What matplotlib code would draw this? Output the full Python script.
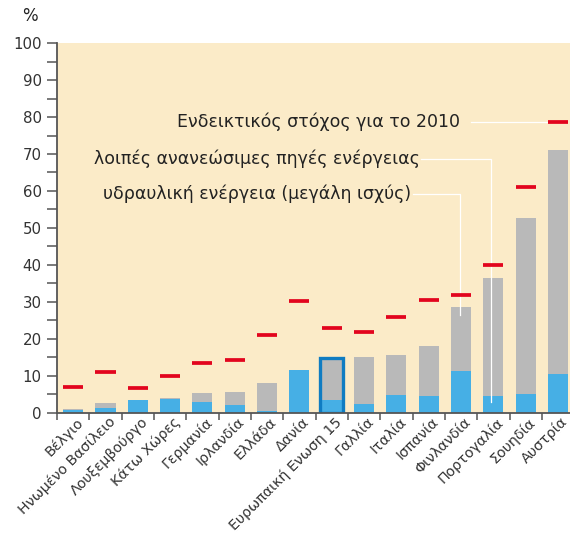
import matplotlib
matplotlib.use("Agg")
import matplotlib.pyplot as plt
import numpy as np
from matplotlib.ticker import MultipleLocator

plt.rcParams['font.family'] = ['DejaVu Sans']

categories = ["Βέλγιο", "Ηνωμένο Βασίλειο", "Λουξεμβούργο", "Κάτω Χώρες",
              "Γερμανία", "Ιρλανδία", "Ελλάδα", "Δανία", "Ευρωπαική Ενωση 15",
              "Γαλλία", "Ιταλία", "Ισπανία", "Φινλανδία", "Πορτογαλία",
              "Σουηδία", "Αυστρία"]
hydro = [0.7, 1.3, 3.3, 3.7, 2.9, 1.9, 0.5, 11.6, 3.4, 2.3, 4.8, 4.5, 11.3, 4.5, 5.0, 10.5]
other_re = [0.3, 1.3, 0.0, 0.3, 2.3, 3.7, 7.6, 0.0, 11.4, 12.6, 10.9, 13.6, 17.4, 31.9, 47.7, 60.5]
targets = [7.0, 10.9, 6.7, 10.0, 13.5, 14.2, 20.9, 30.1, 23.0, 21.9, 25.8, 30.4, 31.8, 40.0, 61.1, 78.7]
highlight = "Ευρωπαική Ενωση 15"
legend_labels = ["Ενδεικτικός στόχος για το 2010",
                 "λοιπές ανανεώσιμες πηγές ενέργειας",
                 "υδραυλική ενέργεια (μεγάλη ισχύς)"]

BG = "#FBEBC8"
BLUE = "#46AFE5"
GREY = "#B9B9B9"
RED = "#E2051E"
EDGE = "#0F7CC2"
TXT = "#222222"
AX = "#555555"

fig = plt.figure(figsize=(5.70, 5.34), dpi=100)
ax = fig.add_axes([0.1, 0.2275, 0.9, 0.6915])
ax.set_facecolor(BG)

x = np.arange(len(categories))
bw = 0.62
ax.bar(x, hydro, width=bw, color=BLUE, zorder=2)
ax.bar(x, other_re, width=bw, bottom=hydro, color=GREY, zorder=2)
ax.hlines(targets, x - bw / 2, x + bw / 2, color=RED, lw=2.7, zorder=3)

hi = categories.index(highlight)
ax.bar([hi], [hydro[hi] + other_re[hi]], width=0.71, fill=False,
       edgecolor=EDGE, linewidth=2.4, zorder=4)

ax.set_xlim(-0.46, 15.37)
ax.set_ylim(0, 100)

# annotation labels + white leader lines
i_at, i_fi, i_pt = len(categories) - 1, categories.index("Φινλανδία"), categories.index("Πορτογαλία")
y1, y2, y3 = targets[i_at], 68.6, 59.2
fs_ann = 12.5
ax.text(11.98, y1, legend_labels[0], ha="right", va="center", fontsize=fs_ann, color=TXT, zorder=5)
ax.plot([12.3, i_at - bw / 2], [y1, y1], color="white", lw=0.9, zorder=2.5)
ax.text(10.72, y2, legend_labels[1], ha="right", va="center", fontsize=fs_ann, color=TXT, zorder=5)
ax.plot([10.77, i_pt - 0.06, i_pt - 0.06], [y2, y2, 2.8], color="white", lw=0.9, zorder=2.5)
ax.text(10.47, y3, legend_labels[2], ha="right", va="center", fontsize=fs_ann, color=TXT, zorder=5)
ax.plot([10.5, i_fi - 0.03, i_fi - 0.03], [y3, y3, 26.4], color="white", lw=0.9, zorder=2.5)

# axes styling
for s in ["top", "right"]:
    ax.spines[s].set_visible(False)
for s in ["left", "bottom"]:
    ax.spines[s].set_color(AX)
    ax.spines[s].set_linewidth(1.3)
    ax.spines[s].set_zorder(6)

ax.yaxis.set_major_locator(MultipleLocator(10))
ax.yaxis.set_minor_locator(MultipleLocator(5))
ax.tick_params(axis="y", which="both", length=7, width=1.1, color=AX,
               labelsize=10.8, labelcolor="#333333", pad=4)
ax.set_xticks(np.arange(-0.5, len(categories) - 1, 1.0))
ax.set_xticklabels([])
ax.tick_params(axis="x", which="major", length=5, width=1.1, color=AX)
ax.set_xticks(x + 0.08, minor=True)
ax.set_xticklabels(categories, minor=True, rotation=45, ha="right",
                   rotation_mode="anchor", fontsize=10.3, color="#333333")
ax.tick_params(axis="x", which="minor", length=0, pad=1.5)

fig.text(0.052, 0.97, "%", ha="center", va="center", fontsize=12, color=TXT)

fig.savefig("out.png", dpi=100, facecolor="white")
